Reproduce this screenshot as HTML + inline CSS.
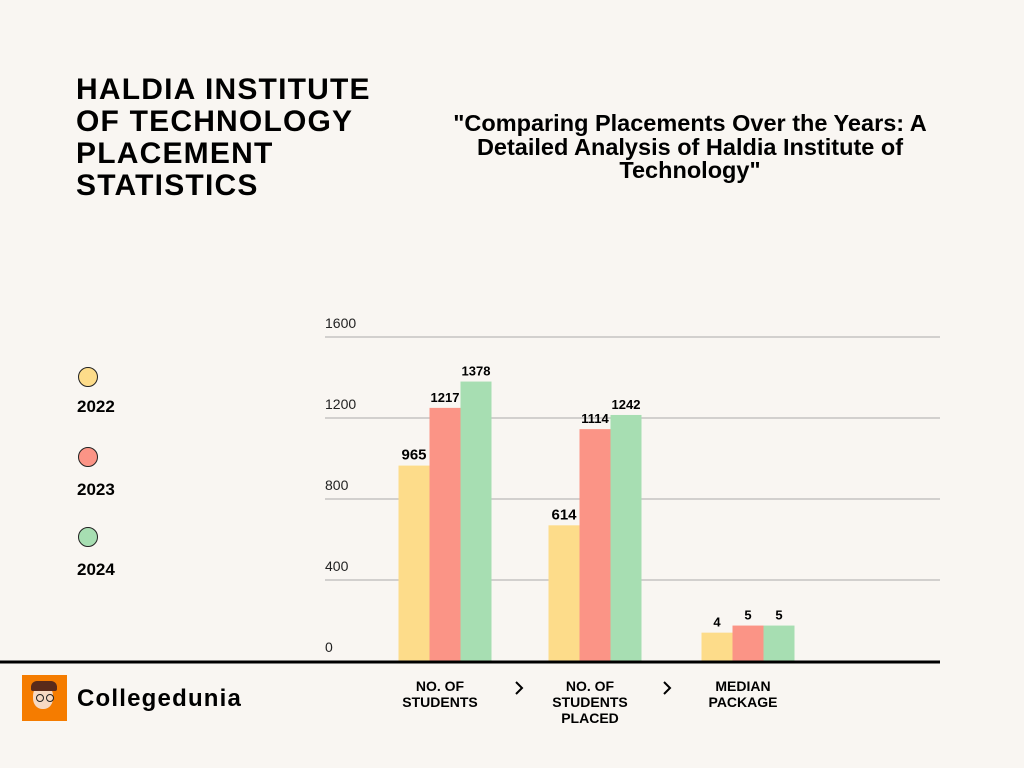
<!DOCTYPE html>
<html><head><meta charset="utf-8"><style>
body{margin:0;width:1024px;height:768px;background:#f9f6f2;font-family:"Liberation Sans",sans-serif;overflow:hidden;position:relative}
.t{position:absolute;color:#000;font-weight:bold}
</style></head><body>
<div class="t" style="left:76px;top:74px;font-size:30px;line-height:32px;letter-spacing:1.2px">HALDIA INSTITUTE<br>OF TECHNOLOGY<br>PLACEMENT<br>STATISTICS</div>
<div class="t" style="left:438px;top:112px;width:504px;text-align:center;font-size:23.5px;line-height:23.5px">"Comparing Placements Over the Years: A Detailed Analysis of Haldia Institute of Technology"</div>
<div>
<div><div style="position:absolute;left:78px;top:367px;width:18px;height:18px;border-radius:50%;background:#fddc8a;border:1.5px solid #222"></div><div class="t" style="left:77px;top:397px;font-size:17px">2022</div></div>
<div><div style="position:absolute;left:78px;top:447px;width:18px;height:18px;border-radius:50%;background:#fb9486;border:1.5px solid #222"></div><div class="t" style="left:77px;top:480px;font-size:17px">2023</div></div>
<div><div style="position:absolute;left:78px;top:527px;width:18px;height:18px;border-radius:50%;background:#a7deb2;border:1.5px solid #222"></div><div class="t" style="left:77px;top:560px;font-size:17px">2024</div></div>
</div>
<svg id="chart" width="1024" height="768" style="position:absolute;left:0;top:0"></svg>
<div style="position:absolute;left:22px;top:675px;width:45px;height:46px;background:#f57c00">
<div style="position:absolute;left:11px;top:10px;width:20px;height:24px;border-radius:45%;background:#f6d9c3"></div>
<div style="position:absolute;left:9px;top:6px;width:26px;height:10px;background:#5a2a1a;border-radius:6px 6px 2px 2px"></div>
<div style="position:absolute;left:14px;top:19px;width:6px;height:6px;border:1.5px solid #222;border-radius:50%"></div>
<div style="position:absolute;left:24px;top:19px;width:6px;height:6px;border:1.5px solid #222;border-radius:50%"></div>
</div>
<div class="t" style="left:77px;top:685px;font-size:24px;letter-spacing:1.2px">Collegedunia</div>
<script>
const categories=["NO. OF|STUDENTS","NO. OF|STUDENTS|PLACED","MEDIAN|PACKAGE"];
const years=["2022","2023","2024"];
const labels2022=[965,614,4];
const labels2023=[1217,1114,5];
const labels2024=[1378,1242,5];
const heights2022=[965,670,140];
const heights2023=[1250,1145,175];
const heights2024=[1380,1215,175];
const ticks=[0,400,800,1200,1600];
const colors=["#fddc8a","#fb9486","#a7deb2"];
const svg=document.getElementById('chart');
const NS="http://www.w3.org/2000/svg";
const y0=661,yMax=1600,pxPer=324/1600;
const yS=v=>y0-v*pxPer;
const centers=[445,595,748];
const bw=31;
function mk(t,a){const e=document.createElementNS(NS,t);for(const k in a)e.setAttribute(k,a[k]);svg.appendChild(e);return e;}
ticks.forEach(t=>{
 if(t>0){const l=mk('line',{x1:325,x2:940,y1:yS(t),y2:yS(t),stroke:'#aaa','stroke-width':1});
 
 }
 const tx=mk('text',{x:325,y:yS(t)-9,'font-size':14,fill:'#222','font-family':'Liberation Sans'});
 tx.textContent=t;
 
 
});
const H=[heights2022,heights2023,heights2024],L=[labels2022,labels2023,labels2024];
categories.forEach((c,i)=>{
 years.forEach((yr,j)=>{
  const x=centers[i]+(j-1.5)*bw;
  const h=H[j][i];
  const r=mk('rect',{x:x,y:yS(h),width:bw,height:h*pxPer,fill:colors[j]});
  
  
  const t=mk('text',{x:x+bw/2,y:yS(h)-6,'text-anchor':'middle','font-size':(L[j][i]>1000||L[j][i]<10)?13:15,'font-weight':'bold',fill:'#000','font-family':'Liberation Sans'});
  t.textContent=L[j][i];
  
  
 });
 c.split('|').forEach((ln,k)=>{
  const t=mk('text',{x:centers[i]-5,y:691+k*16,'text-anchor':'middle','font-size':14,'font-weight':'bold',fill:'#000','font-family':'Liberation Sans'});
  t.textContent=ln;
  
  
 });
});
[519,667].forEach((x,i)=>{const p=mk('path',{d:`M${x-3} ${682}L${x+3} ${688}L${x-3} ${694}`,fill:'none',stroke:'#000','stroke-width':2});
 
 });
const b=mk('line',{x1:0,x2:940,y1:y0+1,y2:y0+1,stroke:'#000','stroke-width':3});


</script>
</body></html>
